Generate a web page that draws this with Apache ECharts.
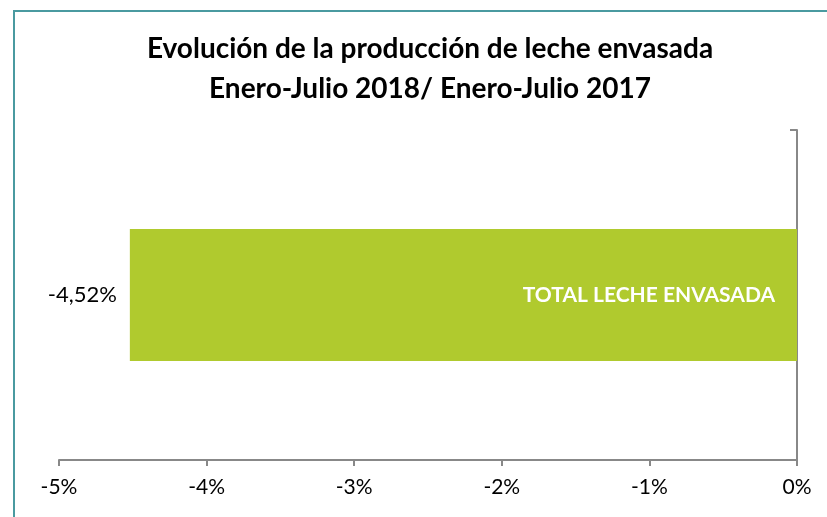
<!DOCTYPE html>
<html>
<head>
<meta charset="utf-8">
<script src="https://cdn.jsdelivr.net/npm/echarts@6/dist/echarts.min.js"></script>
<style>
  html, body { margin: 0; padding: 0; background: #fff; }
  #chart { width: 827px; height: 517px; }
</style>
</head>
<body>
<div id="chart"></div>
<script>
// data
const categories = ['TOTAL LECHE ENVASADA'];
const variation = [-4.52];
const axisMin = -5;
const axisMax = 0;
const axisStep = 1;

const fontFamily = 'Lato, "Open Sans", sans-serif';

const chartDom = document.getElementById('chart');
const myChart = echarts.init(chartDom);

function pctLabel(v) {
    return v.toFixed(2).replace('.', ',') + '%';
}

const option = {
    animation: false,
    textStyle: { fontFamily: fontFamily },
    title: {
        text: 'Evolución de la producción de leche envasada\nEnero-Julio 2018/ Enero-Julio 2017',
        left: 425,
        top: 24,
        textAlign: 'center',
        textStyle: {
            fontFamily: fontFamily,
            fontSize: 28,
            fontWeight: 'bold',
            color: '#000',
            lineHeight: 40
        }
    },
    graphic: [{
        type: 'rect',
        shape: { x: 14, y: 11, width: 900, height: 600 },
        style: { fill: 'none', stroke: '#4a9aa0', lineWidth: 2 },
        silent: true
    }],
    grid: {
        left: 59,
        right: 30,
        top: 130,
        bottom: 57
    },
    xAxis: {
        type: 'value',
        min: axisMin,
        max: axisMax,
        interval: axisStep,
        splitLine: { show: false },
        axisLine: { show: true, lineStyle: { color: '#888', width: 2 } },
        axisTick: { show: true, length: 6, lineStyle: { color: '#888', width: 2 } },
        axisLabel: {
            color: '#000',
            fontSize: 21,
            margin: 17,
            formatter: function (v) { return v + '%'; }
        }
    },
    yAxis: {
        type: 'category',
        data: categories,
        position: 'right',
        axisLine: { show: true, onZero: false, lineStyle: { color: '#888', width: 2 } },
        axisTick: { show: true, inside: true, length: 7, lineStyle: { color: '#888', width: 2 } },
        axisLabel: { show: false }
    },
    series: [{
        name: 'Variación',
        type: 'bar',
        data: variation,
        barWidth: '40%',
        itemStyle: { color: '#b0ca2e' },
        label: {
            show: true,
            position: 'left',
            distance: 13,
            color: '#000',
            fontSize: 22,
            formatter: function (p) { return pctLabel(p.value); }
        }
    }, {
        name: 'Etiqueta',
        type: 'bar',
        data: variation,
        barWidth: '40%',
        barGap: '-100%',
        itemStyle: { color: 'rgba(0,0,0,0)' },
        label: {
            show: true,
            position: 'insideRight',
            distance: 22,
            color: '#fff',
            fontSize: 21,
            fontWeight: 'bold',
            formatter: function (p) { return p.name; }
        }
    }]
};

myChart.setOption(option);
</script>
</body>
</html>
